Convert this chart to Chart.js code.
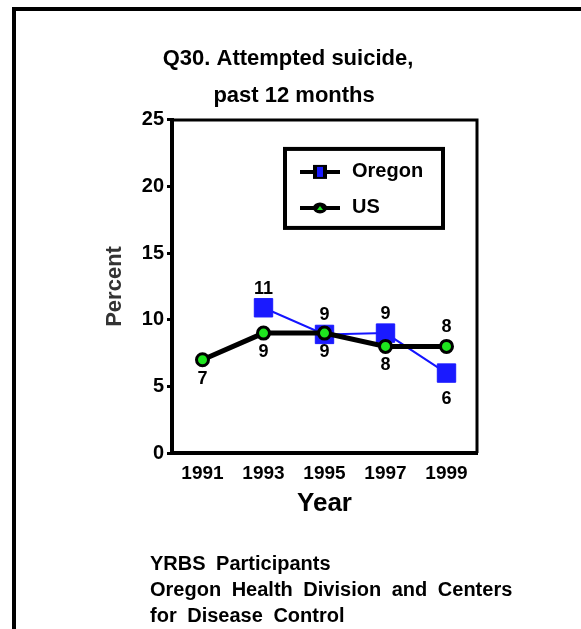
<!DOCTYPE html>
<html lang="en">
<head>
<meta charset="UTF-8">
<title>Q30. Attempted suicide, past 12 months</title>
<style>
  html, body { margin: 0; padding: 0; background: #fff; overflow: hidden; }
  #wrap { position: absolute; left: 0; top: 0; width: 581px; height: 629px; overflow: hidden; }
  #frame { position: absolute; left: 12px; top: 7px; width: 700px; height: 700px;
           border-left: 4px solid #000; border-top: 4px solid #000; }
  canvas { position: absolute; left: 0; top: 0; }
  #source { position: absolute; left: 150px; top: 550px; color: #000;
            font: bold 20px "Liberation Sans", Arial, sans-serif; line-height: 26px; word-spacing: 5px; }
</style>
</head>
<body>
<div id="wrap">
  <div id="frame"></div>
  <canvas id="chart" width="581" height="629"></canvas>
  <div id="source">YRBS Participants<br>Oregon Health Division and Centers<br>for Disease Control</div>
</div>

<script src="https://cdn.jsdelivr.net/npm/chart.js"></script>
<script>
const years = ['1991', '1993', '1995', '1997', '1999'];
const oregon = [null, 10.9, 8.9, 9.0, 6.0];
const us = [7.0, 9.0, 9.0, 8.0, 8.0];
const yTicks = [0, 5, 10, 15, 20, 25];

const FONT = '"Liberation Sans", Arial, sans-serif';
Chart.defaults.font.family = FONT;
Chart.defaults.color = '#000';

// value labels above / below each point
const pointLabels = {
    id: 'pointLabels',
    afterDatasetsDraw(chart) {
        const ctx = chart.ctx;
        ctx.save();
        ctx.font = 'bold 18px ' + FONT;
        ctx.fillStyle = '#000';
        ctx.textAlign = 'center';
        ctx.textBaseline = 'middle';
        chart.data.datasets.forEach((ds, i) => {
            chart.getDatasetMeta(i).data.forEach((pt, j) => {
                const v = ds.data[j];
                if (v == null) return;
                const off = ds.labelSide[j] === 'above' ? -19 : ds.pointRadius + 13;
                ctx.fillText(String(Math.round(v)), pt.x, pt.y + off);
            });
        });
        ctx.restore();
    }
};

// top/right edge of the plot box + boxed legend inside the plot
const plotBox = {
    id: 'plotBox',
    afterDraw(chart) {
        const { ctx, chartArea: a } = chart;
        ctx.save();
        ctx.strokeStyle = '#000';
        ctx.lineWidth = 3;
        ctx.beginPath();
        ctx.moveTo(a.left, a.top);
        ctx.lineTo(a.right, a.top);
        ctx.lineTo(a.right, a.bottom);
        ctx.stroke();

        const x = a.left + 113, y = a.top + 29, w = 158, h = 79;
        ctx.lineWidth = 4;
        ctx.strokeRect(x, y, w, h);
        ctx.font = 'bold 20px ' + FONT;
        ctx.textAlign = 'left';
        ctx.textBaseline = 'middle';
        chart.data.datasets.forEach((ds, i) => {
            const cy = y + 23 + i * 36;
            const cx = x + 35;
            ctx.strokeStyle = '#000';
            ctx.lineWidth = 4;
            ctx.beginPath();
            ctx.moveTo(x + 15, cy);
            ctx.lineTo(x + 55, cy);
            ctx.stroke();
            ctx.fillStyle = '#000';
            if (ds.pointStyle === 'rect') {
                ctx.fillRect(cx - 7, cy - 7, 14, 14);
                ctx.fillStyle = ds.pointBackgroundColor;
                ctx.fillRect(cx - 3, cy - 5, 6, 10);
            } else {
                ctx.beginPath();
                ctx.ellipse(cx, cy, 7, 5.5, 0, 0, Math.PI * 2);
                ctx.fill();
                ctx.fillStyle = ds.pointBackgroundColor;
                ctx.beginPath();
                ctx.moveTo(cx - 3, cy + 2);
                ctx.lineTo(cx + 3, cy + 2);
                ctx.lineTo(cx, cy - 2);
                ctx.fill();
            }
            ctx.fillStyle = '#000';
            ctx.fillText(ds.label, x + 67, cy);
        });
        ctx.restore();
    }
};

new Chart(document.getElementById('chart'), {
    type: 'line',
    data: {
        labels: years,
        datasets: [
            {
                label: 'Oregon',
                data: oregon,
                order: 1,
                borderColor: '#1414ff',
                borderWidth: 2,
                tension: 0,
                pointStyle: 'rect',
                pointRadius: 13,
                pointBackgroundColor: '#1a1aff',
                pointBorderColor: '#1a1aff',
                pointBorderWidth: 1,
                labelSide: [null, 'above', 'above', 'above', 'below']
            },
            {
                label: 'US',
                data: us,
                order: 0,
                borderColor: '#000',
                borderWidth: 5,
                tension: 0,
                pointStyle: 'circle',
                pointRadius: 6,
                pointBackgroundColor: '#1ee61e',
                pointBorderColor: '#000',
                pointBorderWidth: 3,
                labelSide: ['below', 'below', 'below', 'below', 'above']
            }
        ]
    },
    options: {
        responsive: false,
        animation: false,
        devicePixelRatio: 1,
        layout: { padding: { left: 99, right: 104, top: 40, bottom: 0 } },
        plugins: {
            legend: { display: false },
            tooltip: { enabled: false },
            title: {
                display: true,
                text: ['Q30. Attempted suicide,', '  past 12 months'],
                color: '#000',
                font: { size: 22, weight: 'bold', lineHeight: 1.68 },
                padding: { top: 0, bottom: 6 }
            }
        },
        scales: {
            x: {
                type: 'category',
                offset: true,
                grid: { display: false, drawTicks: false },
                border: { display: true, color: '#000', width: 4 },
                ticks: { font: { size: 19, weight: 'bold' }, padding: 9, color: '#000', maxRotation: 0 },
                title: {
                    display: true,
                    text: 'Year',
                    color: '#000',
                    font: { size: 26, weight: 'bold' },
                    padding: { top: 0, bottom: 110 }
                },
                afterFit(scale) { scale.height = 176; }
            },
            y: {
                min: 0,
                max: 25,
                afterBuildTicks(scale) { scale.ticks = yTicks.map(v => ({ value: v })); },
                grid: { drawOnChartArea: false, drawTicks: true, tickLength: 5, tickWidth: 3, tickColor: '#000' },
                border: { display: true, color: '#000', width: 4 },
                ticks: { font: { size: 20, weight: 'bold' }, padding: 3, color: '#000' },
                title: {
                    display: true,
                    text: 'Percent',
                    color: '#333',
                    font: { size: 22, weight: 'bold' },
                    padding: { top: 3, bottom: 0 }
                },
                afterFit(scale) { scale.width = 73; }
            }
        }
    },
    plugins: [pointLabels, plotBox]
});
</script>
</body>
</html>
